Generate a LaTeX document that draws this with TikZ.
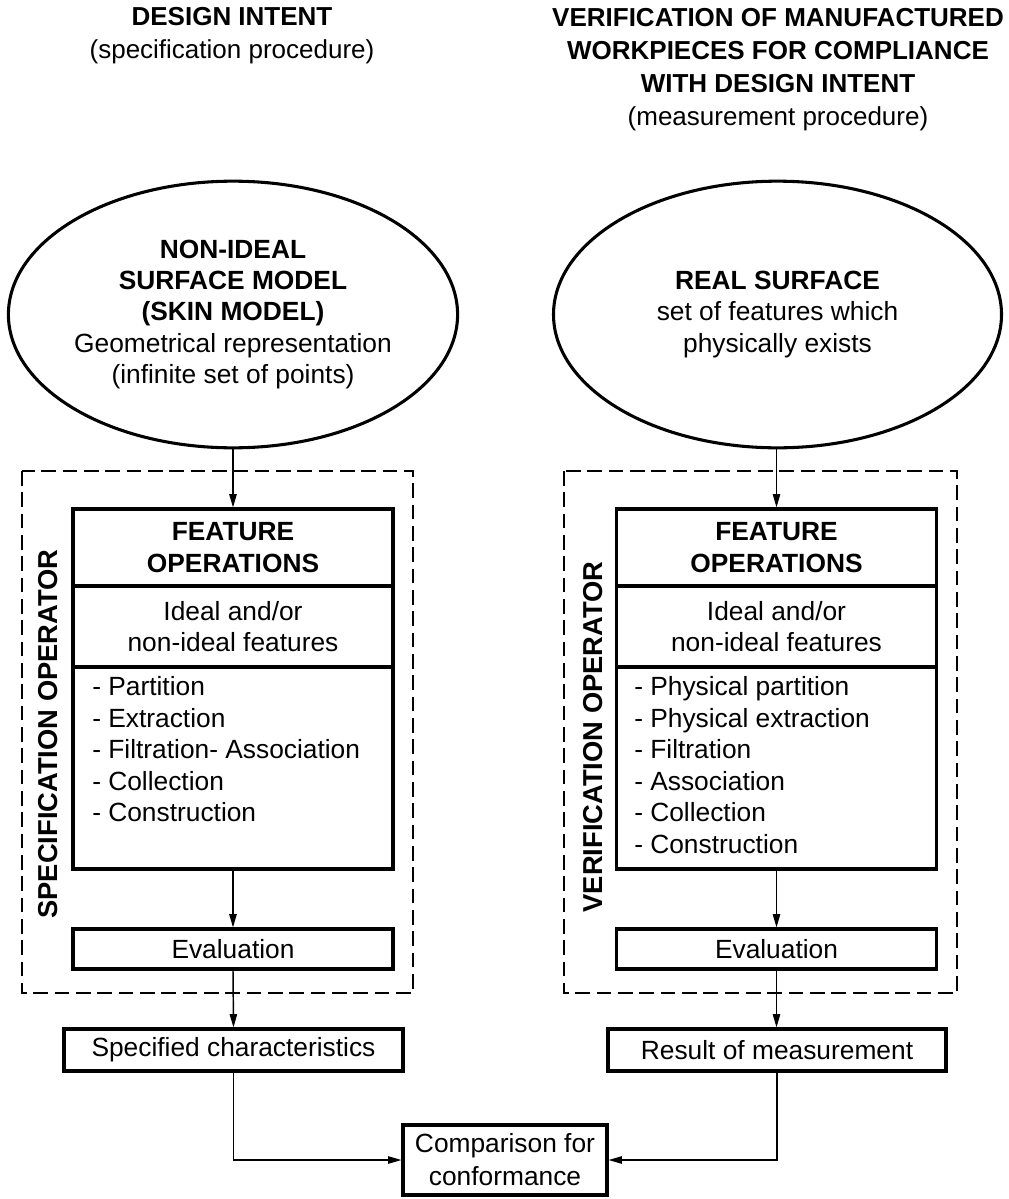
\documentclass[tikz,border=0pt]{standalone}
\usepackage{fontspec}
\setmainfont{Liberation Sans}
\usetikzlibrary{arrows.meta,shapes.geometric}
\begin{document}
\begin{tikzpicture}[x=0.75pt,y=-0.75pt,
  every node/.style={font=\fontsize{19.75pt}{23.6pt}\selectfont, inner sep=0pt},
  hdr/.style={align=center, font=\fontsize{19.5pt}{24.75pt}\selectfont},
  surf/.style={draw, ellipse, line width=2.3pt, minimum width=336pt, minimum height=200pt, align=center},
  fbox/.style={draw, line width=2.3pt, minimum width=240pt, align=center},
  arr/.style={line width=1.1pt, -{Triangle[length=10pt,width=5.5pt]}},
  dashbox/.style={draw, line width=1pt, dash pattern=on 11pt off 5pt},
  vlabel/.style={rotate=90, font=\fontsize{20.5pt}{23.6pt}\selectfont\bfseries},
  listtext/.style={align=left, anchor=north west},
  ]
\useasboundingbox (0,0) rectangle (1008,1199);

% headers
\node[hdr] (hl) at (232,36) {\textbf{DESIGN INTENT}\\(specification procedure)};
\node[hdr] (hr) at (778,69.5) {\textbf{VERIFICATION OF MANUFACTURED}\\\textbf{WORKPIECES FOR COMPLIANCE}\\\textbf{WITH DESIGN INTENT}\\(measurement procedure)};

% dashed operator frames
\draw[dashbox] (22,471) rectangle (413,993);
\draw[dashbox] (564,471) rectangle (957,993);

% left column
\node[surf] (sm) at (233,314.5) {\textbf{NON-IDEAL}\\\textbf{SURFACE MODEL}\\\textbf{(SKIN MODEL)}\\Geometrical representation\\(infinite set of points)};
\node[fbox, minimum height=57.75pt] (lfh) at (233,547.5) {\textbf{FEATURE}\\\textbf{OPERATIONS}};
\node[fbox, minimum height=60.75pt] (lfi) at (233,626.5) {Ideal and/or\\non-ideal features};
\node[fbox, minimum height=151.5pt] (lfl) at (233,768) {};
\node[listtext] (lft) at (92,676.5) {- Partition\\- Extraction\\- Filtration- Association\\- Collection\\- Construction};
\node[fbox, minimum height=30pt] (lev) at (233,949) {Evaluation};
\node[vlabel] (lop) at (48,734) {SPECIFICATION OPERATOR};
\node[fbox, minimum width=254.25pt, minimum height=31.5pt] (lsc) at (233.5,1050) {Specified characteristics};

% right column
\node[surf] (rs) at (777.5,314.5) {\textbf{REAL SURFACE}\\set of features which\\physically exists};
\node[fbox, minimum height=57.75pt] (rfh) at (776.5,547.5) {\textbf{FEATURE}\\\textbf{OPERATIONS}};
\node[fbox, minimum height=60.75pt] (rfi) at (776.5,626.5) {Ideal and/or\\non-ideal features};
\node[fbox, minimum height=151.5pt] (rfl) at (776.5,768) {};
\node[listtext] (rft) at (634,676.5) {- Physical partition\\- Physical extraction\\- Filtration\\- Association\\- Collection\\- Construction};
\node[fbox, minimum height=30pt] (rev) at (776.5,949) {Evaluation};
\node[vlabel] (rop) at (593,737) {VERIFICATION OPERATOR};
\node[fbox, minimum width=253.5pt, minimum height=31.5pt] (rrm) at (777,1050) {Result of measurement};

% comparison
\node[fbox, minimum width=153pt, minimum height=52.5pt, font=\fontsize{19.75pt}{24.75pt}\selectfont] (cmp) at (505,1160) {Comparison for\\conformance};

% connectors
\draw[arr] (sm.south) -- (lfh.north);
\draw[arr] (lfl.south) -- (lev.north);
\draw[arr] (lev.south) -- (lsc.north);
\draw[arr] (lsc.south) |- (cmp.west);

\draw[arr] (rs.south -| rfh.north) -- (rfh.north);
\draw[arr] (rfl.south) -- (rev.north);
\draw[arr] (rev.south) -- (rev.south |- rrm.north);
\draw[arr] (rrm.south) |- (cmp.east);
\end{tikzpicture}
\end{document}
